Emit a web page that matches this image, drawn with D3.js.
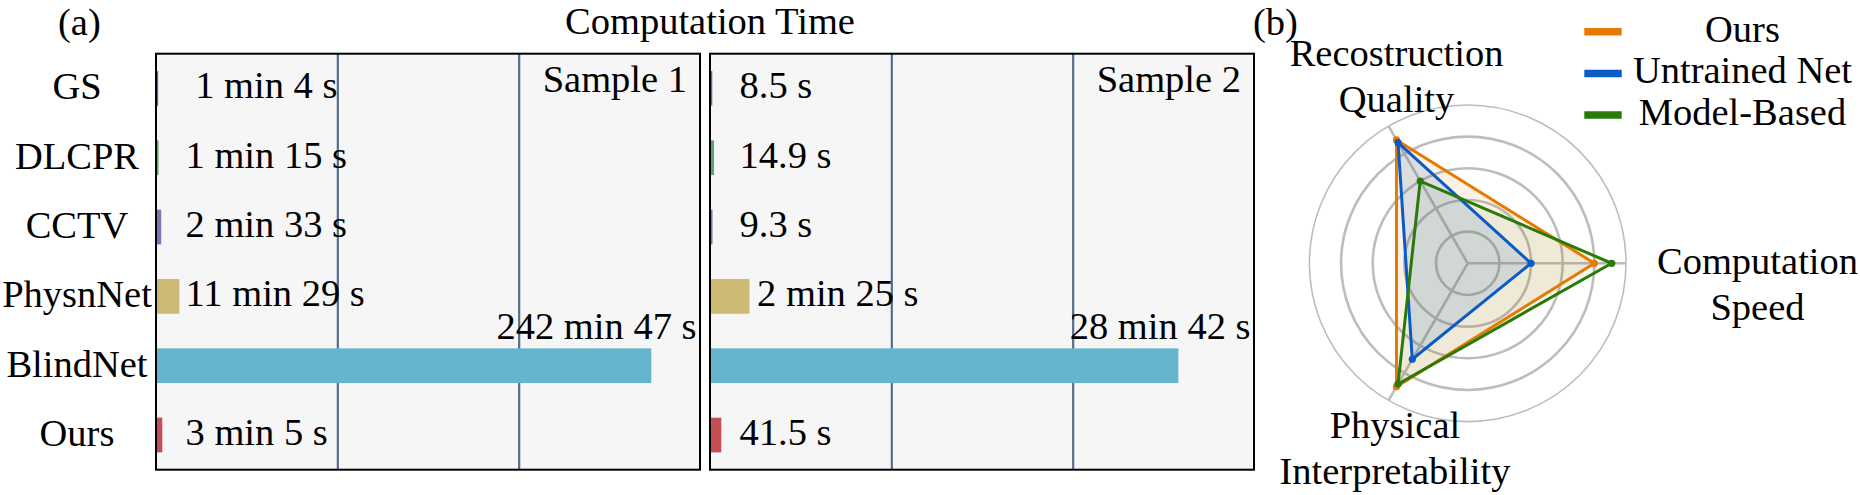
<!DOCTYPE html>
<html><head><meta charset="utf-8">
<script src="https://cdn.jsdelivr.net/npm/d3@7"></script>
<style>
body{margin:0;background:#fff}
svg, svg text{font-family:"Liberation Serif","Times New Roman","DejaVu Serif",serif}
</style></head><body>
<svg id="chart" width="1860" height="495" font-family="Liberation Serif, Times New Roman, DejaVu Serif, serif"></svg>
<script>
// ---------------- data ----------------
const methods = ["GS", "DLCPR", "CCTV", "PhysnNet", "BlindNet", "Ours"];
const barColors = ["#4c72b0", "#55a868", "#8172b2", "#ccb974", "#64b5cd", "#c44e52"];
const sample1Seconds = [64, 75, 153, 689, 14567, 185];
const sample1Labels = ["\u00a01 min 4 s", "1 min 15 s", "2 min 33 s", "11 min 29 s", "242 min 47 s", "3 min 5 s"];
const sample2Seconds = [8.5, 14.9, 9.3, 145, 1722, 41.5];
const sample2Labels = ["8.5 s", "14.9 s", "9.3 s", "\u00a02 min 25 s", "28 min 42 s", "41.5 s"];
const sampleMax = [16000, 2000];
const sampleNames = ["Sample 1", "Sample 2"];
const chartTitle = "Computation Time";

const radarAxes = [["Recostruction", "Quality"], ["Computation", "Speed"], ["Physical", "Interpretability"]];
const radarSeries = ["Ours", "Untrained Net", "Model-Based"];
const radarColors = ["#e67a00", "#0a5ac8", "#2a7a0a"];
const radarFillOpacity = [0.1, 0.13, 0.06];
const oursScores = [4.5, 4.0, 4.5];
const untrainedScores = [4.4, 2.0, 3.5];
const modelBasedScores = [3.0, 4.55, 4.4];
const radarRings = [1, 2, 3, 4, 5];

// ---------------- layout ----------------
const FS = 38.5;
const FONT = "'Liberation Serif', 'Times New Roman', 'DejaVu Serif', serif";
const svg = d3.select("#chart");
const plotTop = 53.7, plotBottom = 469.7;
const y = d3.scaleBand().domain(methods).range([plotTop, plotBottom]).paddingInner(0.5).paddingOuter(0.25);

const panels = [
  {x0: 156, x1: 700, vals: sample1Seconds, labels: sample1Labels, max: sampleMax[0], name: sampleNames[0]},
  {x0: 710, x1: 1254, vals: sample2Seconds, labels: sample2Labels, max: sampleMax[1], name: sampleNames[1]}
];

panels.forEach(p => {
  const g = svg.append("g");
  const x = d3.scaleLinear().domain([0, p.max]).range([p.x0, p.x1]);
  g.append("rect").attr("x", p.x0).attr("y", plotTop).attr("width", p.x1 - p.x0).attr("height", plotBottom - plotTop)
    .attr("fill", "#f6f6f6");
  const grid = g.append("g").attr("transform", `translate(0,${plotBottom})`)
    .call(d3.axisBottom(x).tickValues([p.max / 3, 2 * p.max / 3]).tickSize(-(plotBottom - plotTop)).tickFormat(""));
  grid.select(".domain").remove();
  grid.selectAll(".tick line").attr("stroke", "#566e8c").attr("stroke-width", 2.2);

  g.selectAll("rect.bar").data(p.vals).join("rect").attr("class", "bar")
    .attr("x", x(0)).attr("y", (d, i) => y(methods[i]))
    .attr("width", d => x(d) - x(0)).attr("height", y.bandwidth())
    .attr("fill", (d, i) => barColors[i]);

  g.selectAll("text.val").data(p.vals).join("text").attr("class", "val")
    .attr("font-size", FS).attr("fill", "#000")
    .style("white-space", "pre")
    .each(function (d, i) {
      const big = x(d) - x(0) > (p.x1 - p.x0) * 0.5;
      const s = d3.select(this).text(p.labels[i]);
      if (big) {
        s.attr("x", p.x1 - 3.5).attr("y", y(methods[i]) - 9.5).attr("text-anchor", "end");
      } else {
        s.attr("x", Math.max(x(d) - 2, p.x0 + 29.5)).attr("y", y(methods[i]) + y.bandwidth() / 2 + 10)
          .attr("text-anchor", "start");
      }
    });

  g.append("text").attr("x", p.x1 - 13).attr("y", 91.7).attr("text-anchor", "end")
    .attr("font-size", FS).text(p.name);

  g.append("rect").attr("x", p.x0).attr("y", plotTop).attr("width", p.x1 - p.x0).attr("height", plotBottom - plotTop)
    .attr("fill", "none").attr("stroke", "#000").attr("stroke-width", 2);
});

svg.selectAll("text.cat").data(methods).join("text").attr("class", "cat")
  .attr("x", 77).attr("y", d => y(d) + y.bandwidth() / 2 + 11)
  .attr("text-anchor", "middle").attr("font-size", FS).text(d => d);

svg.append("text").attr("x", 710).attr("y", 34).attr("text-anchor", "middle").attr("font-size", FS).text(chartTitle);
svg.append("text").attr("x", 58).attr("y", 35).attr("font-size", FS).text("(a)");
svg.append("text").attr("x", 1253).attr("y", 35).attr("font-size", FS).text("(b)");

// ---------------- radar ----------------
const cx = 1467.7, cy = 263.3, R = 158.3;
const r = d3.scaleLinear().domain([0, 5]).range([0, R]);
const ang = i => (120 - 120 * i) * Math.PI / 180;
const pt = (v, i) => [cx + r(v) * Math.cos(ang(i)), cy - r(v) * Math.sin(ang(i))];
const rg = svg.append("g");

rg.selectAll("circle.ring").data(radarRings).join("circle").attr("class", "ring")
  .attr("cx", cx).attr("cy", cy).attr("r", d => r(d))
  .attr("fill", "none").attr("stroke", "#bdbdbd")
  .attr("stroke-width", d => d === 5 ? 1.6 : 2.6);

rg.selectAll("line.spoke").data(radarAxes).join("line").attr("class", "spoke")
  .attr("x1", cx).attr("y1", cy)
  .attr("x2", (d, i) => pt(5, i)[0]).attr("y2", (d, i) => pt(5, i)[1])
  .attr("stroke", "#bdbdbd").attr("stroke-width", 2.6);

const allScores = [oursScores, untrainedScores, modelBasedScores];
const line = d3.line().curve(d3.curveLinearClosed);
allScores.forEach((sc, k) => {
  rg.append("path").attr("d", line(sc.map((v, i) => pt(v, i))))
    .attr("fill", radarColors[k]).attr("fill-opacity", radarFillOpacity[k]).attr("stroke", "none");
});
allScores.forEach((sc, k) => {
  rg.append("path").attr("d", line(sc.map((v, i) => pt(v, i))))
    .attr("fill", "none").attr("stroke", radarColors[k]).attr("stroke-width", 3)
    .attr("stroke-linejoin", "miter");
  rg.selectAll(null).data(sc).join("circle")
    .attr("cx", (v, i) => pt(v, i)[0]).attr("cy", (v, i) => pt(v, i)[1])
    .attr("r", 3.6).attr("fill", radarColors[k]);
});

// axis labels
const labelLayout = [
  {dx: 8, dy: -60.5},
  {dx: 131.5, dy: 11},
  {dx: 6.4, dy: 37.3}
];
radarAxes.forEach((lines, i) => {
  const p = pt(5, i);
  const t = rg.append("text").attr("text-anchor", "middle").attr("font-size", FS);
  lines.forEach((s, j) => {
    t.append("tspan").attr("x", p[0] + labelLayout[i].dx).attr("y", p[1] + labelLayout[i].dy + j * 46).text(s);
  });
});

// legend
const lg = svg.append("g");
radarSeries.forEach((s, k) => {
  const yy = 31.7 + k * 41.7;
  lg.append("line").attr("x1", 1584.3).attr("x2", 1621.7).attr("y1", yy).attr("y2", yy)
    .attr("stroke", radarColors[k]).attr("stroke-width", 7.5);
  lg.append("text").attr("x", 1742.5).attr("y", yy + 10).attr("text-anchor", "middle")
    .attr("font-size", FS).text(s);
});

svg.selectAll("text").attr("font-family", FONT).style("font-family", FONT);
</script>
</body></html>
